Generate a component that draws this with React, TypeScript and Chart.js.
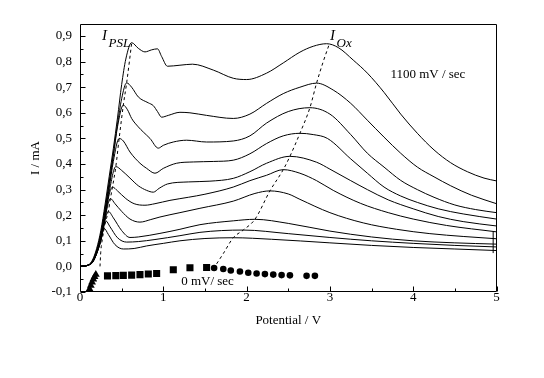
import React, { useEffect, useRef } from 'react';
import { Chart, registerables } from 'chart.js';

Chart.register(...registerables);

// ---- axis ticks ----
const xTickValues = [0, 1, 2, 3, 4, 5];
const xTickLabels = ['0', '1', '2', '3', '4', '5'];
const xMinorTicks = [0.5, 1.5, 2.5, 3.5, 4.5];
const yTickValues = [-0.1, 0, 0.1, 0.2, 0.3, 0.4, 0.5, 0.6, 0.7, 0.8, 0.9];
const yTickLabels = ['-0,1', '0,0', '0,1', '0,2', '0,3', '0,4', '0,5', '0,6', '0,7', '0,8', '0,9'];
const yMinorTicks = [-0.05, 0.05, 0.15, 0.25, 0.35, 0.45, 0.55, 0.65, 0.75, 0.85];

// ---- voltammograms (potential / V, current / mA), from 1100 mV/sec downwards ----
const curve1X = [0, 0.1, 0.15, 0.2, 0.25, 0.3, 0.35, 0.4, 0.45, 0.5, 0.55, 0.62, 0.7, 0.78, 0.86, 0.93, 0.98, 1.05, 1.2, 1.35, 1.6, 1.84, 2.0, 2.24, 2.44, 2.64, 2.8, 2.96, 3.1, 3.28, 3.45, 3.65, 3.85, 4.05, 4.25, 4.45, 4.65, 4.85, 5.0];
const curve1Y = [0, 0.006, 0.025, 0.07, 0.14, 0.24, 0.35, 0.46, 0.58, 0.71, 0.81, 0.874, 0.852, 0.838, 0.846, 0.85, 0.82, 0.782, 0.786, 0.79, 0.767, 0.735, 0.73, 0.755, 0.795, 0.837, 0.86, 0.87, 0.855, 0.806, 0.755, 0.68, 0.595, 0.52, 0.455, 0.405, 0.37, 0.345, 0.334];

const curve2X = [0, 0.1, 0.15, 0.2, 0.25, 0.3, 0.35, 0.4, 0.45, 0.5, 0.56, 0.62, 0.7, 0.82, 0.88, 0.93, 0.98, 1.06, 1.2, 1.32, 1.52, 1.84, 2.04, 2.24, 2.44, 2.64, 2.84, 3.04, 3.25, 3.45, 3.65, 3.85, 4.05, 4.25, 4.45, 4.7, 5.0];
const curve2Y = [0, 0.005, 0.022, 0.064, 0.13, 0.225, 0.33, 0.44, 0.555, 0.655, 0.717, 0.70, 0.662, 0.639, 0.628, 0.605, 0.583, 0.59, 0.602, 0.60, 0.59, 0.578, 0.595, 0.637, 0.675, 0.70, 0.716, 0.689, 0.637, 0.571, 0.505, 0.442, 0.388, 0.35, 0.315, 0.278, 0.245];

const curve3X = [0, 0.1, 0.15, 0.2, 0.25, 0.3, 0.35, 0.4, 0.45, 0.52, 0.57, 0.62, 0.7, 0.76, 0.84, 0.94, 1.0, 1.12, 1.28, 1.52, 1.84, 2.04, 2.24, 2.5, 2.76, 3.0, 3.25, 3.45, 3.65, 3.85, 4.05, 4.25, 4.5, 4.75, 5.0];
const curve3Y = [0, 0.005, 0.02, 0.06, 0.122, 0.215, 0.32, 0.43, 0.545, 0.63, 0.612, 0.578, 0.545, 0.525, 0.50, 0.462, 0.473, 0.486, 0.493, 0.486, 0.49, 0.51, 0.56, 0.605, 0.62, 0.595, 0.515, 0.442, 0.388, 0.336, 0.30, 0.27, 0.24, 0.222, 0.21];

const curve4X = [0, 0.1, 0.15, 0.2, 0.25, 0.3, 0.35, 0.4, 0.47, 0.52, 0.6, 0.72, 0.8, 0.9, 1.0, 1.16, 1.36, 1.6, 1.84, 2.04, 2.24, 2.44, 2.64, 2.8, 2.97, 3.25, 3.45, 3.65, 3.85, 4.05, 4.3, 4.6, 5.0];
const curve4Y = [0, 0.005, 0.019, 0.057, 0.117, 0.205, 0.305, 0.41, 0.50, 0.49, 0.447, 0.403, 0.383, 0.364, 0.383, 0.403, 0.408, 0.41, 0.415, 0.44, 0.48, 0.51, 0.52, 0.515, 0.50, 0.42, 0.364, 0.31, 0.275, 0.25, 0.225, 0.205, 0.185];

const curve5X = [0, 0.1, 0.15, 0.2, 0.25, 0.3, 0.35, 0.43, 0.5, 0.6, 0.7, 0.8, 0.88, 0.95, 1.05, 1.3, 1.56, 1.84, 2.04, 2.24, 2.52, 2.84, 3.0, 3.25, 3.45, 3.7, 4.0, 4.3, 4.6, 5.0];
const curve5Y = [0, 0.005, 0.018, 0.055, 0.112, 0.195, 0.29, 0.39, 0.375, 0.345, 0.315, 0.297, 0.29, 0.305, 0.322, 0.33, 0.333, 0.344, 0.37, 0.403, 0.43, 0.407, 0.38, 0.335, 0.30, 0.26, 0.225, 0.195, 0.175, 0.158];

const curve6X = [0, 0.1, 0.15, 0.2, 0.25, 0.3, 0.35, 0.39, 0.45, 0.55, 0.65, 0.78, 0.9, 1.08, 1.3, 1.5, 1.84, 2.04, 2.24, 2.44, 2.64, 2.84, 3.04, 3.37, 3.7, 4.0, 4.4, 5.0];
const curve6Y = [0, 0.005, 0.018, 0.053, 0.108, 0.19, 0.28, 0.31, 0.295, 0.265, 0.245, 0.239, 0.245, 0.258, 0.27, 0.282, 0.31, 0.335, 0.356, 0.378, 0.364, 0.335, 0.297, 0.246, 0.21, 0.185, 0.16, 0.135];

const curve7X = [0, 0.1, 0.15, 0.2, 0.25, 0.3, 0.33, 0.365, 0.42, 0.5, 0.6, 0.72, 0.85, 0.96, 1.2, 1.44, 1.84, 2.1, 2.28, 2.5, 2.64, 3.0, 3.4, 3.8, 4.2, 4.6, 5.0];
const curve7Y = [0, 0.005, 0.017, 0.052, 0.105, 0.185, 0.235, 0.265, 0.245, 0.215, 0.185, 0.173, 0.183, 0.193, 0.21, 0.227, 0.255, 0.285, 0.295, 0.283, 0.262, 0.21, 0.17, 0.145, 0.128, 0.117, 0.108];

const curve8X = [0, 0.1, 0.15, 0.2, 0.25, 0.3, 0.34, 0.4, 0.5, 0.6, 0.7, 0.96, 1.2, 1.44, 1.84, 2.1, 2.5, 3.0, 3.5, 4.0, 4.5, 5.0];
const curve8Y = [0, 0.005, 0.016, 0.05, 0.1, 0.18, 0.215, 0.19, 0.14, 0.113, 0.115, 0.129, 0.145, 0.163, 0.178, 0.184, 0.168, 0.138, 0.115, 0.1, 0.092, 0.087];

const curve9X = [0, 0.1, 0.15, 0.2, 0.25, 0.31, 0.36, 0.45, 0.56, 0.7, 0.9, 1.2, 1.44, 1.7, 1.96, 2.5, 3.0, 3.5, 4.0, 4.5, 5.0];
const curve9Y = [0, 0.005, 0.016, 0.05, 0.1, 0.178, 0.155, 0.112, 0.095, 0.097, 0.105, 0.12, 0.133, 0.14, 0.142, 0.128, 0.113, 0.1, 0.09, 0.082, 0.076];

const curve10X = [0, 0.1, 0.15, 0.2, 0.25, 0.29, 0.34, 0.42, 0.52, 0.65, 0.8, 1.0, 1.2, 1.5, 1.84, 2.3, 3.0, 3.5, 4.0, 4.5, 5.0];
const curve10Y = [0, 0.005, 0.015, 0.05, 0.105, 0.148, 0.125, 0.085, 0.068, 0.07, 0.08, 0.09, 0.1, 0.109, 0.112, 0.106, 0.092, 0.082, 0.074, 0.068, 0.062];

// ---- dashed peak loci ----
const iPslX = [0.24, 0.25, 0.27, 0.29, 0.31, 0.34, 0.365, 0.39, 0.43, 0.47, 0.52, 0.56, 0.62];
const iPslY = [0.0, 0.06, 0.11, 0.148, 0.178, 0.215, 0.265, 0.31, 0.39, 0.50, 0.63, 0.717, 0.872];
const iOxX = [1.64, 1.72, 1.84, 1.96, 2.1, 2.28, 2.44, 2.52, 2.64, 2.76, 2.84, 2.92, 2.99];
const iOxY = [0.01, 0.05, 0.112, 0.142, 0.184, 0.295, 0.378, 0.43, 0.52, 0.62, 0.716, 0.8, 0.866];

// ---- small vertical marker at the right end ----
const endMarkX = [4.96, 4.96];
const endMarkY = [0.052, 0.137];

// ---- 0 mV/sec points ----
const triX = [0.10, 0.115, 0.13, 0.145, 0.16, 0.175, 0.19];
const triY = [-0.1, -0.088, -0.075, -0.062, -0.05, -0.04, -0.032];
const sqX = [0.33, 0.43, 0.52, 0.62, 0.72, 0.82, 0.92, 1.12, 1.32, 1.52];
const sqY = [-0.037, -0.036, -0.035, -0.034, -0.032, -0.030, -0.028, -0.013, -0.005, -0.004];
const dotX = [1.61, 1.72, 1.81, 1.92, 2.02, 2.12, 2.22, 2.32, 2.42, 2.52, 2.72, 2.82];
const dotY = [-0.006, -0.01, -0.016, -0.02, -0.025, -0.028, -0.03, -0.032, -0.034, -0.035, -0.037, -0.037];

const curvesX = [curve1X, curve2X, curve3X, curve4X, curve5X, curve6X, curve7X, curve8X, curve9X, curve10X];
const curvesY = [curve1Y, curve2Y, curve3Y, curve4Y, curve5Y, curve6Y, curve7Y, curve8Y, curve9Y, curve10Y];

const SERIF = '"Liberation Serif", "Times New Roman", serif';

const annotations = [
  { text: 'I', x: 0.264, y: 0.884, font: `italic 15px ${SERIF}` },
  { text: 'PSL', x: 0.343, y: 0.859, font: `italic 13px ${SERIF}` },
  { text: 'I', x: 3.0, y: 0.884, font: `italic 15px ${SERIF}` },
  { text: 'Ox', x: 3.08, y: 0.857, font: `italic 13px ${SERIF}` },
  { text: '1100 mV / sec', x: 3.726, y: 0.7355, font: `13px ${SERIF}` },
  { text: '0 mV/ sec', x: 1.214, y: -0.0743, font: `13px ${SERIF}` },
];

const pts = (xs: number[], ys: number[]) => xs.map((x, i) => ({ x, y: ys[i] }));

const framePlugin = {
  id: 'frameTicks',
  afterDatasetsDraw(chart: any) {
    const { ctx, chartArea } = chart;
    const xs = chart.scales.x;
    const ys = chart.scales.y;
    const L = Math.round(chartArea.left) + 0.5;
    const R = Math.round(chartArea.right) - 0.5;
    const T = Math.round(chartArea.top) + 0.5;
    const B = Math.round(chartArea.bottom) - 0.5;
    ctx.save();
    ctx.strokeStyle = '#000';
    ctx.lineWidth = 1;
    ctx.beginPath();
    ctx.rect(L, T, R - L, B - T);
    const tick = (arr: number[], len: number, horiz: boolean) => {
      arr.forEach((v) => {
        if (horiz) {
          const p = Math.round(xs.getPixelForValue(v)) + 0.5;
          ctx.moveTo(p, B);
          ctx.lineTo(p, B - len);
        } else {
          const p = Math.round(ys.getPixelForValue(v)) + 0.5;
          ctx.moveTo(L, p);
          ctx.lineTo(L + len, p);
        }
      });
    };
    tick(xTickValues, 5, true);
    tick(xMinorTicks, 3, true);
    tick(yTickValues, 5, false);
    tick(yMinorTicks, 3, false);
    ctx.stroke();
    ctx.fillStyle = '#000';
    ctx.textBaseline = 'alphabetic';
    ctx.textAlign = 'left';
    annotations.forEach((a) => {
      ctx.font = a.font;
      ctx.fillText(a.text, xs.getPixelForValue(a.x), ys.getPixelForValue(a.y));
    });
    ctx.restore();
  },
};

export default function App() {
  const ref = useRef<HTMLCanvasElement>(null);
  useEffect(() => {
    if (!ref.current) return;
    Chart.defaults.font.family = SERIF;
    Chart.defaults.font.size = 13;
    Chart.defaults.color = '#000';
    const lineSets = curvesX.map((xs, i) => ({
      data: pts(xs, curvesY[i]),
      borderColor: '#000',
      borderWidth: 1,
      pointRadius: 0,
      fill: false,
      cubicInterpolationMode: 'monotone' as const,
    }));
    const dashSets = [pts(iPslX, iPslY), pts(iOxX, iOxY)].map((d) => ({
      data: d,
      borderColor: '#000',
      borderWidth: 1,
      borderDash: [3, 3],
      pointRadius: 0,
      fill: false,
      cubicInterpolationMode: 'monotone' as const,
    }));
    const markSet = {
      data: pts(endMarkX, endMarkY),
      borderColor: '#000',
      borderWidth: 1,
      pointRadius: 0,
      fill: false,
    };
    const markerSets = [
      { data: pts(triX, triY), pointStyle: 'triangle', pointRadius: 4.5 },
      { data: pts(sqX, sqY), pointStyle: 'rect', pointRadius: 5 },
      { data: pts(dotX, dotY), pointStyle: 'circle', pointRadius: 3.3 },
    ].map((m) => ({
      ...m,
      showLine: false,
      borderColor: '#000',
      backgroundColor: '#000',
      borderWidth: 0,
    }));
    const chart = new Chart(ref.current, {
      type: 'line',
      data: { datasets: [...lineSets, ...dashSets, markSet, ...markerSets] as any },
      options: {
        animation: false,
        responsive: false,
        devicePixelRatio: 1,
        layout: { padding: { left: 0, right: 47.5, top: 24, bottom: 0 } },
        plugins: { legend: { display: false }, tooltip: { enabled: false } },
        scales: {
          x: {
            type: 'linear',
            min: 0,
            max: 5,
            afterBuildTicks: (s: any) => {
              s.ticks = xTickValues.map((v) => ({ value: v }));
            },
            afterFit: (s: any) => {
              s.height = 86;
            },
            ticks: {
              callback: (_v: any, i: number) => xTickLabels[i],
              padding: -2,
              maxRotation: 0,
              autoSkip: false,
              color: '#000',
              font: { family: SERIF, size: 13 },
            },
            grid: { display: false, drawTicks: false },
            border: { display: false },
            title: {
              display: true,
              text: 'Potential / V',
              color: '#000',
              font: { family: SERIF, size: 13 },
              padding: { top: 0, bottom: 49.6 },
            },
          },
          y: {
            type: 'linear',
            min: -0.1,
            max: 0.947,
            afterBuildTicks: (s: any) => {
              s.ticks = yTickValues.map((v) => ({ value: v }));
            },
            afterFit: (s: any) => {
              s.width = 80;
            },
            ticks: {
              callback: (_v: any, i: number) => yTickLabels[i],
              padding: 8,
              autoSkip: false,
              color: '#000',
              font: { family: SERIF, size: 13 },
            },
            grid: { display: false, drawTicks: false },
            border: { display: false },
            title: {
              display: true,
              text: 'I / mA',
              color: '#000',
              font: { family: SERIF, size: 13 },
              padding: { top: 28.2, bottom: 0 },
            },
          },
        },
      },
      plugins: [framePlugin],
    });
    return () => chart.destroy();
  }, []);
  return (
    <div style={{ position: 'fixed', left: 0, top: 0, width: 544, height: 378, background: '#fff' }}>
      <canvas ref={ref} width={544} height={378} style={{ display: 'block', width: 544, height: 378 }} />
    </div>
  );
}
